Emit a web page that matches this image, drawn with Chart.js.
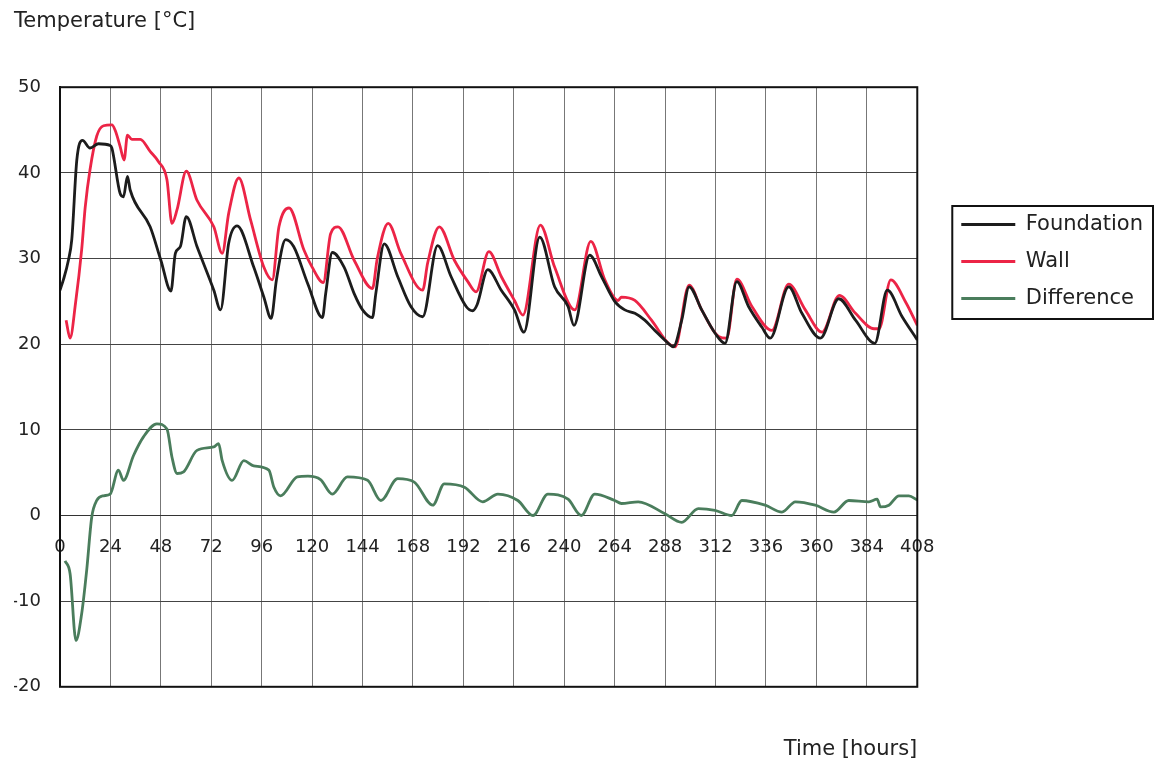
<!DOCTYPE html>
<html>
<head>
<meta charset="utf-8">
<script src="https://cdn.jsdelivr.net/npm/chart.js@4.4.1/dist/chart.umd.min.js"></script>
<style>
html, body { margin: 0; padding: 0; background: #fff; }
</style>
</head>
<body>
<canvas id="tempChart" width="1158" height="770"></canvas>
<script>
// hours and temperatures
const foundationHours = [0, 1.6, 4, 5.6, 8, 10.7, 14.3, 18.3, 23.9, 24.7, 28.6, 30.2, 32.1, 33.4, 42.9, 48, 52.8, 54.9, 57.3, 60.1, 65.2, 73.2, 76.4, 80.3, 84.3, 92.2, 97, 100.5, 103, 107.4, 111.2, 118, 124.9, 126.5, 129.6, 135.2, 140, 144, 148.7, 150.3, 154.3, 160.7, 167, 172.6, 179.7, 186.1, 193.3, 196.4, 198.5, 203.6, 210, 216.3, 220.8, 228.3, 235.4, 241.8, 244.6, 252.1, 257.7, 264, 268.8, 273.6, 278.3, 283.1, 289.5, 291.9, 295.9, 299.4, 305.4, 311.7, 316.5, 322.1, 327.7, 334, 338, 346.8, 353.1, 361.9, 370.6, 378.6, 387.8, 393.7, 400.8, 408];
const foundationTemp = [26.3, 27.5, 29.8, 32.2, 41.5, 43.8, 42.9, 43.4, 43.2, 42.9, 37.6, 37.2, 39.6, 38, 33.7, 29.8, 26.2, 30.6, 31.4, 34.9, 31.4, 26.3, 24.0, 31.8, 33.8, 29, 25.5, 23.0, 27.5, 32.2, 31.4, 27, 23.1, 26, 30.7, 29.0, 25.9, 24, 23.1, 25.9, 31.7, 27.9, 24.4, 23.2, 31.5, 27.9, 24.4, 23.9, 24.6, 28.7, 26.3, 24, 21.4, 32.5, 26.7, 24.4, 22.2, 30.4, 27.9, 25.0, 24, 23.6, 22.8, 21.6, 20.1, 19.7, 22.8, 26.7, 24, 21.3, 20.1, 27.3, 24.4, 22, 20.7, 26.7, 23.6, 20.7, 25.3, 22.8, 20.1, 26.3, 23.2, 20.5];

const wallHours = [2.9, 4.8, 7.4, 10.3, 12, 14.3, 17.5, 20.7, 24.7, 26.2, 28.6, 30.5, 32.1, 34.2, 38.2, 42.9, 46.9, 50.9, 53.3, 55.7, 60.1, 65.2, 73.2, 77.2, 80.3, 85.1, 90.7, 97, 101, 104.2, 109, 116.1, 120, 125.3, 128.8, 132.3, 140, 148.7, 151, 156.2, 162.2, 172.6, 175, 180.5, 187.7, 194.1, 198, 204.1, 210, 216.3, 220.3, 228.6, 235.4, 245, 252.6, 259.3, 265.6, 267.2, 273.6, 281.5, 289.5, 292.7, 299.4, 305.4, 313.4, 317.3, 322.1, 329.3, 338.8, 346.8, 354.7, 362.7, 370.9, 378.6, 387.4, 389.8, 395.4, 402.5, 408];
const wallTemp = [22.8, 20.7, 24.8, 31, 36, 40.4, 44.3, 45.5, 45.6, 45, 43.1, 41.5, 44.4, 43.9, 43.9, 42.5, 41.3, 39.2, 34.1, 35.7, 40.2, 36.8, 33.7, 30.6, 35.3, 39.4, 34.5, 29, 27.5, 33.7, 35.9, 31, 29, 27.2, 32.9, 33.7, 29.8, 26.5, 30, 34.1, 30.6, 26.3, 29.5, 33.7, 29.8, 27.3, 26.1, 30.8, 27.9, 25.1, 23.4, 33.9, 29, 24, 32, 27.5, 25.1, 25.5, 25.1, 22.8, 20.1, 19.7, 26.9, 24, 20.9, 20.7, 27.6, 24.4, 21.6, 27, 24, 21.4, 25.7, 23.6, 21.8, 21.8, 27.5, 24.9, 22.2];

const diffHours = [2.4, 4.8, 7.6, 10.3, 12.7, 15.1, 17.5, 20.7, 23.9, 27.8, 30.2, 35, 39.8, 46.1, 50.9, 53.3, 55.7, 58.8, 65.2, 73.2, 75.5, 77.2, 81.9, 87.5, 92.2, 99.4, 101.8, 105, 112.9, 118, 124, 129.6, 136.8, 146.4, 152.7, 160.7, 168.6, 177.4, 182.9, 192.5, 201.2, 208.4, 217.9, 225.1, 232.2, 241.8, 248.1, 254.5, 264, 267.2, 275.2, 287.9, 295.9, 303.8, 311.7, 319.7, 324.5, 335.6, 343.6, 350, 359.5, 368.3, 375.4, 385, 388.9, 390.5, 394.5, 399.3, 404, 408];
const diffTemp = [-5.3, -6.8, -14.6, -11.5, -6.4, -0.2, 1.75, 2.3, 2.5, 5.3, 4.1, 7, 9.2, 10.7, 10.1, 6.8, 4.9, 5.1, 7.6, 8, 8.4, 6.4, 4.1, 6.4, 5.8, 5.3, 3.3, 2.3, 4.5, 4.6, 4.2, 2.5, 4.5, 4.1, 1.75, 4.3, 3.9, 1.2, 3.7, 3.3, 1.6, 2.5, 1.75, 0, 2.5, 1.9, 0, 2.5, 1.75, 1.4, 1.6, 0.2, -0.8, 0.8, 0.6, 0, 1.75, 1.2, 0.4, 1.6, 1.2, 0.4, 1.75, 1.6, 1.9, 1, 1.2, 2.3, 2.3, 1.8];

const seriesNames = ['Foundation', 'Wall', 'Difference'];

const FONT = "'DejaVu Sans', Verdana, sans-serif";
Chart.defaults.font.family = FONT;
Chart.defaults.color = '#222';

function toPoints(hours, values) {
    return hours.map((h, i) => ({ x: h, y: values[i] }));
}

// black frame round the plot area
const framePlugin = {
    id: 'frame',
    afterDraw(chart) {
        const a = chart.chartArea;
        const ctx = chart.ctx;
        ctx.save();
        ctx.strokeStyle = '#111';
        ctx.lineWidth = 2;
        ctx.strokeRect(a.left, a.top, a.right - a.left, a.bottom - a.top);
        ctx.restore();
    }
};

// box round the legend items
const legendBoxPlugin = {
    id: 'legendBox',
    afterDraw(chart) {
        const boxes = chart.legend && chart.legend.legendHitBoxes;
        if (!boxes || !boxes.length) return;
        const left = Math.min(...boxes.map(b => b.left)) - 9;
        const top = boxes[0].top - 8;
        const right = Math.max(...boxes.map(b => b.left + b.width)) + 10;
        const last = boxes[boxes.length - 1];
        const bottom = last.top + last.height + 10;
        const ctx = chart.ctx;
        ctx.save();
        ctx.strokeStyle = '#111';
        ctx.lineWidth = 2;
        ctx.strokeRect(left, top, right - left, bottom - top);
        ctx.restore();
    }
};

new Chart(document.getElementById('tempChart'), {
    type: 'line',
    data: {
        datasets: [
            {
                label: seriesNames[0],
                data: toPoints(foundationHours, foundationTemp),
                borderColor: '#1c1c1c',
                borderWidth: 2.8
            },
            {
                label: seriesNames[1],
                data: toPoints(wallHours, wallTemp),
                borderColor: '#ec2446',
                borderWidth: 2.8
            },
            {
                label: seriesNames[2],
                data: toPoints(diffHours, diffTemp),
                borderColor: '#4a7d5c',
                borderWidth: 2.8
            }
        ]
    },
    options: {
        responsive: false,
        animation: false,
        layout: { padding: { left: 14, right: 5, top: 0, bottom: 0 } },
        elements: {
            point: { radius: 0 },
            line: { cubicInterpolationMode: 'monotone' }
        },
        plugins: {
            title: {
                display: true,
                text: 'Temperature [°C]',
                align: 'start',
                color: '#222',
                font: { size: 21, weight: 'normal', lineHeight: 1.2 },
                padding: { top: 9, bottom: 53 }
            },
            legend: {
                position: 'right',
                align: 'start',
                title: {
                    display: true,
                    text: ' ',
                    font: { size: 8, lineHeight: 1 },
                    padding: { top: 190, bottom: 0 }
                },
                labels: {
                    usePointStyle: true,
                    pointStyle: 'line',
                    pointStyleWidth: 54,
                    padding: 16,
                    color: '#222',
                    font: { size: 21 }
                }
            },
            tooltip: { enabled: false }
        },
        scales: {
            x: {
                type: 'linear',
                position: { y: 0 },
                min: 0,
                max: 408,
                grid: { color: '#777', lineWidth: 1, drawTicks: false },
                border: { color: '#333', width: 1 },
                ticks: {
                    stepSize: 24,
                    autoSkip: false,
                    maxRotation: 0,
                    padding: 21,
                    color: '#222',
                    font: { size: 18 }
                }
            },
            xTitle: {
                type: 'linear',
                position: 'bottom',
                min: 0,
                max: 408,
                grid: { display: false, drawTicks: false },
                border: { display: false },
                ticks: { display: false },
                title: {
                    display: true,
                    text: 'Time [hours]',
                    align: 'end',
                    color: '#222',
                    font: { size: 21 },
                    padding: { top: 50, bottom: 8 }
                }
            },
            y: {
                min: -20,
                max: 50,
                grid: { color: '#444', lineWidth: 1, drawTicks: false },
                border: { color: '#111', width: 2 },
                ticks: {
                    stepSize: 10,
                    padding: 19,
                    color: '#222',
                    font: { size: 18 }
                },
                afterFit(scale) { scale.width = 46; }
            },
            yGap: {
                display: false,
                position: 'right',
                min: -20,
                max: 50,
                afterFit(scale) { scale.width = 28; }
            }
        }
    },
    plugins: [framePlugin, legendBoxPlugin]
});
</script>
</body>
</html>
